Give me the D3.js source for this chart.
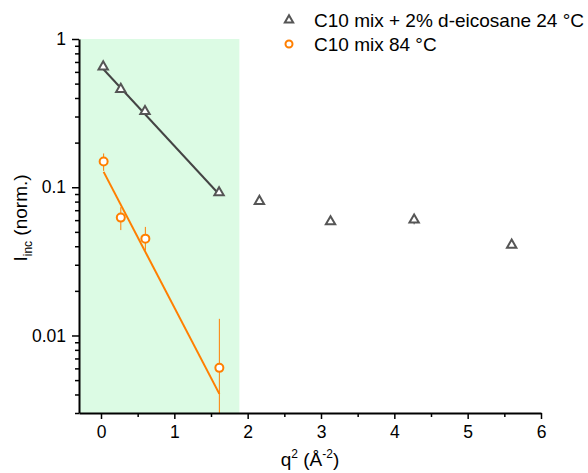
<!DOCTYPE html>
<html><head><meta charset="utf-8">
<script src="https://cdn.jsdelivr.net/npm/d3@7"></script>
<style>body{margin:0;background:#fff;} svg{display:block;font-family:"Liberation Sans",Arial,sans-serif;}</style>
</head><body>
<svg id="c" width="588" height="473"></svg>
<script>
// Data
const seriesNames = ["C10 mix + 2% d-eicosane 24 °C", "C10 mix 84 °C"];
const triX = [0.03, 0.27, 0.60, 1.61, 2.16, 3.13, 4.27, 5.60];
const triY = [0.65, 0.458, 0.325, 0.092, 0.0805, 0.0586, 0.0602, 0.0408];
const triErr = [0.01, 0.008, 0.006, 0.003, 0.002, 0.002, 0.004, 0.001];
const circX = [0.036, 0.27, 0.605, 1.614];
const circY = [0.149, 0.0624, 0.045, 0.00605];
const circErrLo = [0.02, 0.011, 0.0075, 0.0059];
const circErrHi = [0.02, 0.011, 0.009, 0.0069];
const fitTriX = [0.03, 1.61];
const fitTriY = [0.628, 0.0897];
const fitCircX = [0.036, 1.614];
const fitCircY = [0.127, 0.00404];
const shadeX = [-0.3, 1.887];
const xTicks = [0, 1, 2, 3, 4, 5, 6];
const yTicks = [1, 0.1, 0.01];
const yTickLabels = ["1", "0.1", "0.01"];

const svg = d3.select("#c");
const L = 79, R = 541, T = 39, B = 413;
const x = d3.scaleLinear().domain([-0.3, 6]).range([L, R]);
const y = d3.scaleLog().domain([0.003, 1]).range([B, T]);
const gray = "#555555", lineGray = "#444444", orange = "#ff7f00";

svg.append("defs").append("clipPath").attr("id","clip")
  .append("rect").attr("x", L).attr("y", T).attr("width", R - L).attr("height", B - T);

svg.append("rect").attr("x", x(shadeX[0])).attr("y", T)
  .attr("width", x(shadeX[1]) - x(shadeX[0])).attr("height", B - T)
  .attr("fill", "#dcfbe4");

const plot = svg.append("g").attr("clip-path", "url(#clip)");
const line = d3.line().x(d => x(d[0])).y(d => y(d[1]));

// fits
plot.append("path").attr("d", line(d3.zip(fitTriX, fitTriY)))
  .attr("stroke", lineGray).attr("stroke-width", 2).attr("fill", "none");
plot.append("path").attr("d", line(d3.zip(fitCircX, fitCircY)))
  .attr("stroke", orange).attr("stroke-width", 2).attr("fill", "none");

// error bars
triX.forEach((v, i) => {
  plot.append("line").attr("x1", x(v)).attr("x2", x(v))
    .attr("y1", y(triY[i] + triErr[i])).attr("y2", y(Math.max(triY[i] - triErr[i], 1e-4)))
    .attr("stroke", gray).attr("stroke-width", 1);
});
circX.forEach((v, i) => {
  plot.append("line").attr("x1", x(v)).attr("x2", x(v))
    .attr("y1", y(circY[i] + circErrHi[i])).attr("y2", y(Math.max(circY[i] - circErrLo[i], 1e-4)))
    .attr("stroke", orange).attr("stroke-width", 1);
});

// markers
const tri = d3.symbol().type(d3.symbolTriangle).size(38);
triX.forEach((v, i) => {
  plot.append("path").attr("d", tri()).attr("transform", `translate(${x(v)},${y(triY[i])})`)
    .attr("fill", "#fff").attr("stroke", gray).attr("stroke-width", 2);
});
circX.forEach((v, i) => {
  plot.append("circle").attr("cx", x(v)).attr("cy", y(circY[i])).attr("r", 4)
    .attr("fill", "#fff").attr("stroke", orange).attr("stroke-width", 2);
});

// axes
svg.append("g").attr("transform", `translate(0,${B})`)
  .call(d3.axisBottom(x).tickValues(xTicks).tickFormat(d3.format("d")).tickSize(6).tickSizeOuter(0).tickPadding(7));
svg.append("g").attr("transform", `translate(0,${B})`)
  .call(d3.axisBottom(x).tickValues(d3.range(-0.5, 6, 1).filter(v => v > -0.3)).tickFormat("").tickSize(4).tickSizeOuter(0))
  .select(".domain").remove();
svg.append("g").attr("transform", `translate(${L},0)`)
  .call(d3.axisLeft(y).tickValues(yTicks).tickFormat((d, i) => yTickLabels[i]).tickSize(7).tickSizeOuter(0).tickPadding(6));
const minorY = [];
[0.001, 0.01, 0.1].forEach(dec => { for (let k = 2; k <= 9; k++) { const v = dec * k; if (v >= 0.003 && v < 1) minorY.push(v); } });
svg.append("g").attr("transform", `translate(${L},0)`)
  .call(d3.axisLeft(y).tickValues(minorY).tickFormat("").tickSize(4).tickSizeOuter(0))
  .select(".domain").remove();
svg.selectAll(".domain").attr("stroke", "#000").attr("stroke-width", 2);
svg.selectAll(".tick line").attr("stroke", "#000").attr("stroke-width", 1.5);
svg.selectAll(".tick text").attr("font-size", 17.5).attr("fill", "#000")
  .attr("font-family", '"Liberation Sans",Arial,sans-serif');

// axis titles
const xt = svg.append("text").attr("x", 310).attr("y", 466).attr("text-anchor", "middle")
  .attr("font-size", 19).attr("fill", "#000");
xt.append("tspan").text("q");
xt.append("tspan").attr("dy", -8).attr("font-size", 12).text("2");
xt.append("tspan").attr("dy", 8).text(" (Å");
xt.append("tspan").attr("dy", -8).attr("font-size", 12).text("-2");
xt.append("tspan").attr("dy", 8).text(")");

const yt = svg.append("text").attr("transform", "translate(27,218) rotate(-90)").attr("text-anchor", "middle")
  .attr("font-size", 19).attr("fill", "#000");
yt.append("tspan").text("I");
yt.append("tspan").attr("dy", 5).attr("font-size", 12).text("inc");
yt.append("tspan").attr("dy", -5).text(" (norm.)");

// legend
const leg = svg.append("g");
const triL = d3.symbol().type(d3.symbolTriangle).size(30);
leg.append("path").attr("d", triL()).attr("transform", "translate(289,20)")
  .attr("fill", "#fff").attr("stroke", gray).attr("stroke-width", 2);
leg.append("circle").attr("cx", 289).attr("cy", 44).attr("r", 3.5)
  .attr("fill", "#fff").attr("stroke", orange).attr("stroke-width", 2);
leg.append("text").attr("x", 314).attr("y", 27).attr("font-size", 19).attr("fill", "#000").text(seriesNames[0]);
leg.append("text").attr("x", 314).attr("y", 51).attr("font-size", 19).attr("fill", "#000").text(seriesNames[1]);
</script>
</body></html>
